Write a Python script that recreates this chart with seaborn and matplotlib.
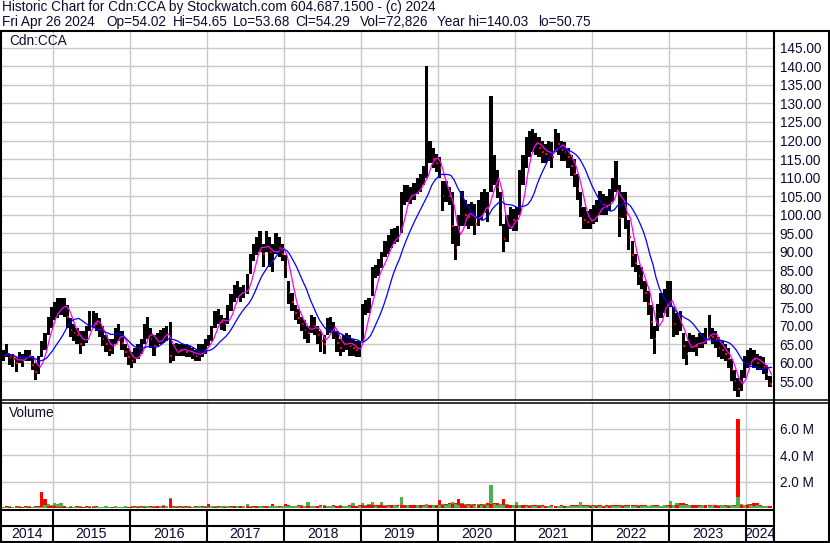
import numpy as np
import pandas as pd
import matplotlib.pyplot as plt
from matplotlib.lines import Line2D
import seaborn as sns

# -----------------------------
# DATA: semi-monthly bars, May 2014 .. Apr 2024
# -----------------------------

close = [
    62.0, 63.0, 61.5, 61.0, 60.0, 61.5, 60.5, 62.5, 62.0, 59.5, 57.5, 59.5, 64.0, 66.0, 70.5, 72.5,  # 2014
    74.0, 75.0, 75.5, 75.5, 72.5, 69.0, 68.0, 67.5, 65.0, 66.0, 68.0, 71.5, 72.0, 70.5, 69.0, 66.5, 65.0, 63.5, 65.0, 67.5, 68.5, 65.5, 63.0, 61.5,  # 2015
    60.5, 61.5, 63.0, 64.5, 67.5, 69.5, 66.5, 64.5, 66.0, 67.5, 68.0, 68.0, 62.0, 62.5, 64.0, 63.5, 63.5, 63.0, 63.0, 62.5, 62.0, 62.5, 63.5, 65.0,  # 2016
    66.0, 68.0, 71.5, 72.5, 71.0, 70.5, 73.0, 76.0, 78.5, 79.5, 78.5, 79.5, 81.0, 86.5, 89.5, 91.5, 92.5, 89.5, 92.5, 90.0, 87.5, 92.5, 91.0, 89.5,  # 2017
    86.0, 79.0, 76.5, 73.5, 72.0, 70.5, 69.0, 68.0, 70.5, 70.0, 67.5, 66.0, 65.0, 70.0, 70.5, 68.5, 65.5, 64.0, 65.5, 66.0, 64.5, 64.0, 63.5, 64.0,  # 2018
    72.0, 75.0, 75.5, 82.0, 85.0, 85.5, 87.5, 90.5, 92.0, 93.5, 94.5, 94.5, 101.0, 105.0, 105.5, 105.0, 106.0, 107.5, 108.5, 110.5, 112.5, 117.0, 115.0, 114.0,  # 2019
    112.5, 105.0, 106.0, 105.0, 97.0, 91.0, 96.0, 101.5, 100.0, 99.5, 100.0, 97.5, 100.0, 102.0, 103.0, 101.5, 111.0, 111.0, 107.5, 101.0, 93.5, 96.5, 99.0, 98.5,  # 2020
    98.5, 106.0, 111.5, 116.0, 119.0, 120.0, 119.0, 118.0, 117.0, 116.5, 117.0, 115.5, 120.0, 119.0, 117.5, 117.0, 115.5, 113.0, 111.0, 107.0, 102.0, 98.5, 98.0, 98.5,  # 2021
    100.0, 101.0, 103.0, 102.5, 102.0, 104.0, 106.0, 110.0, 99.0, 103.0, 100.0, 94.0, 89.0, 87.0, 83.5, 83.0, 79.0, 76.0, 71.0, 66.5, 72.5, 75.0, 76.5, 76.0,  # 2022
    78.0, 70.5, 70.5, 71.0, 64.5, 62.5, 65.5, 65.5, 64.5, 66.0, 66.0, 67.0, 69.5, 67.0, 66.5, 64.0, 63.5, 62.5, 61.0, 58.0, 55.0, 53.0, 55.0, 59.0,  # 2023
    61.0, 62.0, 61.0, 60.0, 60.0, 59.0, 57.0, 54.29,  # 2024
]

low = [
    60.5, 61.5, 59.5, 59.0, 57.5, 60.0, 59.0, 60.5, 60.5, 58.0, 55.5, 57.0, 61.5, 63.5, 67.5, 69.5,
    71.5, 72.0, 73.0, 72.5, 69.5, 67.0, 66.0, 65.0, 62.5, 64.5, 65.5, 68.5, 69.5, 68.5, 67.0, 64.5, 63.0, 62.0, 62.5, 65.0, 66.0, 63.5, 61.5, 59.5,
    58.5, 60.0, 61.0, 62.5, 65.0, 66.5, 64.0, 62.0, 64.5, 65.0, 65.5, 66.0, 60.0, 60.5, 62.0, 62.0, 62.0, 61.5, 61.5, 61.0, 60.5, 60.5, 61.5, 62.5,
    64.5, 66.0, 69.5, 70.5, 69.0, 68.5, 70.5, 74.0, 76.5, 77.5, 76.5, 77.5, 78.5, 84.0, 87.5, 89.0, 90.0, 86.0, 90.0, 86.0, 84.5, 89.5, 88.5, 87.5,
    83.0, 76.0, 74.0, 71.5, 70.5, 68.5, 66.5, 65.5, 68.0, 67.5, 65.0, 63.0, 62.5, 67.5, 68.0, 66.5, 63.0, 62.0, 63.0, 63.5, 62.0, 62.0, 61.5, 61.5,
    66.0, 73.0, 73.5, 78.0, 83.0, 83.5, 85.5, 88.5, 89.5, 91.0, 92.0, 92.5, 95.0, 102.5, 103.5, 103.0, 104.0, 105.5, 106.0, 108.0, 110.0, 114.0, 112.5, 111.5,
    110.0, 101.0, 103.5, 102.5, 92.0, 87.8, 91.5, 97.0, 97.0, 96.0, 97.0, 94.5, 97.0, 98.5, 100.5, 98.0, 106.0, 108.0, 104.5, 97.0, 90.0, 92.5, 96.0, 95.5,
    95.5, 100.0, 108.0, 112.5, 115.5, 117.0, 116.0, 115.5, 114.0, 114.0, 114.5, 112.5, 117.0, 116.0, 114.5, 114.5, 112.5, 110.5, 107.5, 104.0, 99.5, 96.0, 96.0, 96.0,
    97.5, 98.0, 100.0, 100.0, 100.0, 101.0, 103.5, 106.0, 94.0, 99.0, 96.0, 90.5, 86.0, 84.5, 81.0, 80.0, 76.5, 73.0, 66.5, 62.5, 68.5, 72.0, 73.5, 72.5,
    75.0, 67.0, 67.5, 68.5, 61.0, 59.5, 63.0, 63.0, 62.0, 64.0, 64.0, 65.0, 66.5, 65.0, 64.0, 61.5, 61.0, 60.5, 58.5, 55.0, 52.5, 50.75, 52.5, 56.0,
    58.5, 59.5, 58.5, 58.0, 58.0, 57.0, 55.5, 53.5,
]

high = [
    63.5, 65.0, 62.5, 62.5, 61.5, 63.0, 62.5, 63.5, 63.5, 62.0, 60.0, 62.0, 66.0, 68.0, 72.5, 75.0,
    76.5, 77.5, 77.5, 77.5, 75.5, 72.0, 70.5, 69.5, 68.5, 68.5, 70.0, 74.0, 74.0, 73.5, 72.0, 70.0, 67.5, 66.5, 66.5, 69.5, 70.5, 68.5, 65.0, 64.0,
    63.0, 64.0, 65.0, 66.5, 70.5, 72.3, 69.5, 67.5, 68.0, 69.0, 69.5, 70.0, 71.0, 65.0, 65.5, 65.0, 65.0, 65.0, 64.5, 64.0, 63.5, 65.0, 65.0, 66.5,
    67.5, 70.0, 74.0, 74.5, 73.0, 72.0, 75.5, 78.5, 81.0, 82.0, 80.5, 81.0, 84.0, 89.5, 92.0, 94.0, 95.5, 92.0, 95.5, 94.0, 92.0, 95.0, 94.0, 92.0,
    89.0, 82.0, 79.0, 75.5, 74.5, 72.5, 71.5, 70.0, 73.0, 72.5, 70.0, 68.5, 67.5, 72.0, 72.5, 71.0, 68.5, 66.5, 67.5, 68.0, 67.5, 66.5, 66.0, 66.0,
    76.0, 77.0, 77.5, 86.0, 86.5, 88.0, 90.0, 93.0, 94.5, 96.0, 96.5, 97.0, 106.0, 108.0, 108.0, 107.5, 108.5, 110.0, 111.0, 113.0, 140.03, 120.0, 118.0, 116.5,
    115.5, 109.0, 109.0, 107.5, 106.0, 97.0, 100.0, 106.5, 104.0, 103.0, 103.5, 103.0, 104.0, 106.0, 107.0, 106.0, 132.0, 116.0, 112.0, 106.0, 97.5, 100.0, 102.0, 101.5,
    102.0, 112.0, 116.0, 121.0, 122.5, 123.0, 122.0, 121.0, 120.0, 119.0, 120.0, 119.5, 123.0, 122.0, 120.0, 119.5, 118.0, 116.0, 115.0, 111.0, 106.0, 102.0, 101.0, 101.5,
    102.5, 104.0, 106.5, 105.5, 105.0, 107.0, 110.0, 114.5, 108.0, 106.0, 106.0, 98.5, 93.0, 89.5, 86.5, 86.0, 82.0, 79.5, 75.5, 70.0, 76.0, 79.0, 80.0, 82.0,
    82.0, 75.0, 73.5, 74.0, 68.0, 66.0, 68.0, 67.5, 67.0, 68.0, 68.0, 69.5, 73.0, 69.5, 68.5, 67.0, 66.0, 65.0, 64.0, 61.0, 58.0, 56.0, 58.0, 62.0,
    63.5, 64.0, 63.5, 62.5, 62.0, 61.5, 59.5, 56.5,
]

# volume in millions: down-day peak (red) and up-day peak (green) per period
vol_red = [
    0.10, 0.12, 0.08, 0.10, 0.12, 0.10, 0.08, 0.12, 0.10, 0.10, 0.12, 0.15, 1.20, 0.65, 0.15, 0.12,
    0.12, 0.10, 0.08, 0.12, 0.10, 0.08, 0.10, 0.12, 0.10, 0.08, 0.12, 0.10, 0.10, 0.12, 0.08, 0.10, 0.12, 0.10, 0.08, 0.12, 0.10, 0.10, 0.12, 0.08,
    0.10, 0.12, 0.10, 0.12, 0.10, 0.15, 0.12, 0.10, 0.12, 0.15, 0.12, 0.18, 0.65, 0.12, 0.10, 0.12, 0.10, 0.12, 0.10, 0.10, 0.12, 0.15, 0.12, 0.10,
    0.27, 0.12, 0.10, 0.15, 0.12, 0.10, 0.12, 0.15, 0.12, 0.18, 0.12, 0.15, 0.12, 0.10, 0.15, 0.12, 0.15, 0.18, 0.12, 0.15, 0.30, 0.15, 0.12, 0.15,
    0.30, 0.20, 0.18, 0.15, 0.20, 0.15, 0.18, 0.12, 0.15, 0.18, 0.15, 0.20, 0.15, 0.18, 0.15, 0.20, 0.15, 0.12, 0.18, 0.15, 0.20, 0.18, 0.15, 0.20,
    0.20, 0.18, 0.22, 0.20, 0.25, 0.20, 0.22, 0.18, 0.25, 0.20, 0.22, 0.25, 0.20, 0.22, 0.25, 0.20, 0.22, 0.25, 0.20, 0.25, 0.30, 0.22, 0.25, 0.20,
    0.60, 0.25, 0.30, 0.35, 0.30, 0.40, 0.70, 0.30, 0.25, 0.30, 0.25, 0.30, 0.25, 0.30, 0.25, 0.35, 0.30, 0.40, 0.35, 0.30, 0.70, 0.25, 0.20, 0.25,
    0.20, 0.25, 0.20, 0.22, 0.18, 0.20, 0.22, 0.18, 0.20, 0.15, 0.18, 0.20, 0.15, 0.18, 0.20, 0.15, 0.18, 0.20, 0.22, 0.25, 0.45, 0.20, 0.22, 0.18,
    0.20, 0.18, 0.22, 0.15, 0.20, 0.18, 0.22, 0.25, 0.20, 0.18, 0.22, 0.25, 0.20, 0.22, 0.18, 0.20, 0.22, 0.18, 0.25, 0.22, 0.20, 0.18, 0.22, 0.20,
    0.20, 0.25, 0.22, 0.35, 0.35, 0.30, 0.25, 0.22, 0.20, 0.25, 0.22, 0.20, 0.25, 0.22, 0.20, 0.18, 0.22, 0.20, 0.18, 0.22, 0.25, 6.70, 0.22, 0.25,
    0.25, 0.30, 0.40, 0.40, 0.20, 0.18, 0.15, 0.12,
]

vol_green = [
    0.08, 0.10, 0.12, 0.08, 0.10, 0.12, 0.10, 0.08, 0.12, 0.10, 0.08, 0.10, 0.10, 0.25, 0.30, 0.20,
    0.35, 0.30, 0.35, 0.15, 0.10, 0.12, 0.08, 0.10, 0.12, 0.10, 0.08, 0.15, 0.12, 0.10, 0.08, 0.10, 0.12, 0.08, 0.10, 0.12, 0.08, 0.10, 0.12, 0.10,
    0.12, 0.10, 0.12, 0.10, 0.15, 0.12, 0.10, 0.15, 0.18, 0.12, 0.20, 0.15, 0.75, 0.10, 0.12, 0.10, 0.12, 0.10, 0.12, 0.08, 0.10, 0.12, 0.10, 0.12,
    0.10, 0.12, 0.15, 0.10, 0.12, 0.15, 0.12, 0.10, 0.15, 0.12, 0.15, 0.12, 0.27, 0.12, 0.10, 0.15, 0.12, 0.10, 0.15, 0.12, 0.12, 0.15, 0.10, 0.12,
    0.15, 0.18, 0.12, 0.15, 0.12, 0.20, 0.15, 0.45, 0.12, 0.15, 0.18, 0.12, 0.20, 0.15, 0.12, 0.15, 0.18, 0.20, 0.12, 0.15, 0.12, 0.40, 0.18, 0.15,
    0.35, 0.20, 0.30, 0.45, 0.18, 0.22, 0.45, 0.20, 0.18, 0.22, 0.20, 0.18, 0.85, 0.25, 0.20, 0.22, 0.25, 0.20, 0.22, 0.18, 0.30, 0.25, 0.20, 0.22,
    0.25, 0.30, 0.25, 0.30, 0.45, 0.30, 0.25, 0.35, 0.30, 0.25, 0.30, 0.25, 0.30, 0.25, 0.30, 0.25, 1.70, 0.30, 0.25, 0.30, 0.25, 0.30, 0.25, 0.20,
    0.45, 0.20, 0.25, 0.18, 0.20, 0.15, 0.18, 0.20, 0.15, 0.18, 0.15, 0.12, 0.18, 0.15, 0.12, 0.18, 0.15, 0.12, 0.15, 0.18, 0.45, 0.15, 0.18, 0.20,
    0.15, 0.20, 0.15, 0.18, 0.15, 0.20, 0.15, 0.18, 0.15, 0.20, 0.18, 0.15, 0.18, 0.15, 0.20, 0.15, 0.18, 0.15, 0.20, 0.15, 0.18, 0.15, 0.20, 0.18,
    0.50, 0.25, 0.40, 0.20, 0.25, 0.22, 0.20, 0.25, 0.22, 0.18, 0.20, 0.22, 0.18, 0.20, 0.22, 0.25, 0.20, 0.18, 0.22, 0.20, 0.18, 0.80, 0.30, 0.20,
    0.30, 0.20, 0.15, 0.20, 0.15, 0.18, 0.12, 0.15,
]

years = list(range(2014, 2025))
price_ticks = list(range(55, 146, 5))
vol_ticks = [2, 4, 6]

header1 = "Historic Chart for Cdn:CCA by Stockwatch.com 604.687.1500 - (c) 2024"
header2 = ["Fri Apr 26 2024", "Op=54.02", "Hi=54.65", "Lo=53.68", "Cl=54.29",
           "Vol=72,826", "Year hi=140.03", "lo=50.75"]

# -----------------------------
# FRAME / LAYOUT
# -----------------------------

sns.set_style("white")
plt.rcParams['font.family'] = ['Liberation Sans', 'DejaVu Sans']

W, H = 830, 543
TXT = '#0c0c30'
GRID = '#c8c8c8'
FS = 9.8


def rect(x0, y0, x1, y1):
    return [x0 / W, 1 - y1 / H, (x1 - x0) / W, (y1 - y0) / H]


def px_year(px):
    # year gridlines sit 77 px apart, 2015 at x=53
    return 2015 + (px - 53) / 77.0


fig = plt.figure(figsize=(W / 100, H / 100), dpi=100)
fig.patch.set_facecolor('white')

ax_p = fig.add_axes(rect(1, 31, 774, 400))
ax_v = fig.add_axes(rect(1, 402, 774, 510))
ax_y = fig.add_axes(rect(1, 510, 774, 542))

n = len(close)
t = 2014 + 4 / 12 + np.arange(n) / 24.0
w = 1 / 24.0
df = pd.DataFrame({'t': t, 'close': close, 'low': low, 'high': high,
                   'vr': vol_red, 'vg': vol_green})
df['ma_fast'] = df['close'].rolling(3, min_periods=1).mean()
df['ma_slow'] = df['close'].rolling(10, min_periods=1).mean()
df['t_end'] = df['t'] + w
down = df['close'].diff() < 0

xlim = (px_year(1), px_year(774))

# -----------------------------
# PRICE PANEL
# -----------------------------

ax_p.bar(df['t'], df['high'] - df['low'], bottom=df['low'], width=w,
         align='edge', color='black', linewidth=0, zorder=3)
ax_p.hlines(df.loc[down, 'close'], df.loc[down, 't'] + w * 0.5,
            df.loc[down, 't'] + w, colors='#ff0000', lw=1.6, zorder=4)
sns.lineplot(data=df, x='t_end', y='ma_fast', ax=ax_p, color='#ff00ff',
             lw=0.9, zorder=5, legend=False)
sns.lineplot(data=df, x='t_end', y='ma_slow', ax=ax_p, color='#0000ff',
             lw=0.9, zorder=6, legend=False)

ax_p.set_xlim(xlim)
ax_p.set_ylim(50.0, 149.55)
ax_p.set_xticks(years[1:])
ax_p.set_yticks(price_ticks)
ax_p.set_yticklabels([f"{v:.2f}" for v in price_ticks], fontsize=FS, color=TXT)
ax_p.yaxis.tick_right()
ax_p.tick_params(axis='y', length=0, pad=4)
ax_p.tick_params(axis='x', length=0, labelbottom=False)
ax_p.grid(True, color=GRID, lw=1.0, zorder=0)
ax_p.set_xlabel('')
ax_p.set_ylabel('')
for s in ax_p.spines.values():
    s.set_visible(False)
ax_p.text(8 / 773, 1 - 10 / 369, "Cdn:CCA", transform=ax_p.transAxes,
          fontsize=FS, color=TXT, va='center', ha='left')

# -----------------------------
# VOLUME PANEL
# -----------------------------

# taller of the two bars behind, shorter one in front
big = np.maximum(df['vr'], df['vg'])
small = np.minimum(df['vr'], df['vg'])
big_col = np.where(df['vr'] >= df['vg'], '#ff0000', '#4cb04c')
small_col = np.where(df['vr'] >= df['vg'], '#4cb04c', '#ff0000')
ax_v.bar(df['t'], big, width=w, align='edge', color=big_col, linewidth=0, zorder=3)
ax_v.bar(df['t'], small, width=w, align='edge', color=small_col, linewidth=0, zorder=4)
ax_v.set_xlim(xlim)
ax_v.set_ylim(-0.15, 8.0)
ax_v.set_xticks(years[1:])
ax_v.set_yticks(vol_ticks)
ax_v.set_yticklabels([f"{v:.1f} M" for v in vol_ticks], fontsize=FS, color=TXT)
ax_v.yaxis.tick_right()
ax_v.tick_params(axis='y', length=0, pad=4)
ax_v.tick_params(axis='x', length=0, labelbottom=False)
ax_v.grid(True, color=GRID, lw=1.0, zorder=0)
for s in ax_v.spines.values():
    s.set_visible(False)
ax_v.text(8 / 773, 1 - 11 / 108, "Volume", transform=ax_v.transAxes,
          fontsize=FS, color=TXT, va='center', ha='left')

# -----------------------------
# YEAR ROW
# -----------------------------

ax_y.set_xlim(xlim)
ax_y.set_ylim(0, 1)
ax_y.axis('off')
for y in years[1:]:
    ax_y.axvline(y, color='black', lw=1.5)
for y in years:
    a = max(y, xlim[0])
    b = min(y + 1, xlim[1])
    ax_y.text((a + b) / 2, 0.25, str(y), ha='center', va='center',
              fontsize=FS + 0.4, color=TXT)

# -----------------------------
# BORDERS AND HEADER
# -----------------------------


def hline(y, x0, x1, lw=1.5):
    fig.add_artist(Line2D([x0 / W, x1 / W], [1 - y / H] * 2, color='black', lw=lw))


def vline(x, y0, y1, lw=1.5):
    fig.add_artist(Line2D([x / W] * 2, [1 - y0 / H, 1 - y1 / H], color='black', lw=lw))


hline(31, 0, 830)
hline(399.5, 0, 829, lw=1.1)
hline(402.5, 0, 829, lw=1.1)
hline(510, 0, 774)
hline(526, 0, 774)
hline(541.5, 0, 829)
vline(1, 31, 543)
vline(774, 31, 542)
vline(828.5, 31, 543)

fig.text(2 / W, 1 - 7 / H, header1, fontsize=9.8, color=TXT, va='center', ha='left')
h2_x = [2, 106, 173, 233, 295, 360, 437, 538]
for x, s in zip(h2_x, header2):
    fig.text(x / W, 1 - 22 / H, s, fontsize=FS, color=TXT, va='center', ha='left')

plt.savefig("out.png", dpi=100)
plt.close()
